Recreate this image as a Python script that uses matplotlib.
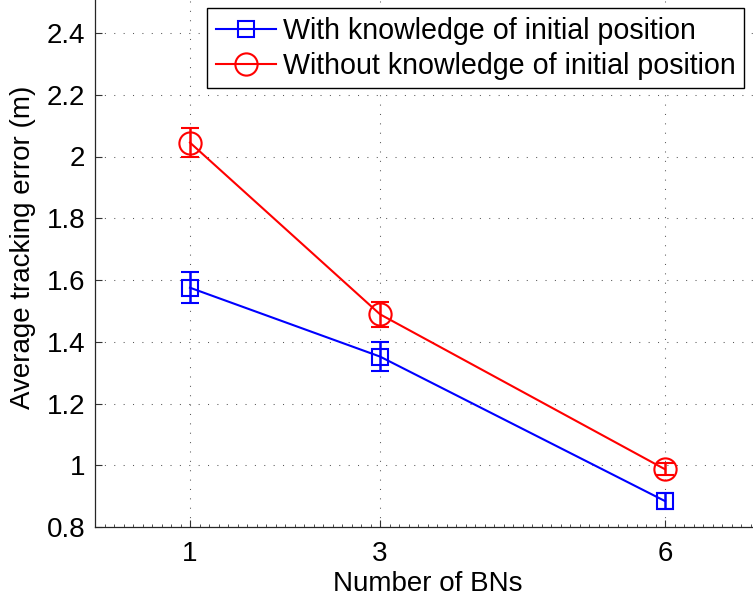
import matplotlib
matplotlib.use('Agg')
import matplotlib.pyplot as plt
from matplotlib.ticker import MultipleLocator

plt.rcParams['font.family'] = ['Liberation Sans', 'DejaVu Sans']

# number of beacon nodes and tracking error (mean, half-width of error bar)
bns = [1, 3, 6]
err_known = [1.575, 1.352, 0.884]
ci_known = [0.050, 0.046, 0.026]
err_unknown = [2.045, 1.489, 0.987]
ci_unknown = [0.047, 0.041, 0.019]
labels = ['With knowledge of initial position',
          'Without knowledge of initial position']

W, H = 753, 598
fig = plt.figure(figsize=(W / 100, H / 100), dpi=100)
# axes box runs past the top and right border of the figure
ax = fig.add_axes([95 / W, (H - 527) / H, 665 / W, 560 / H])
ax.set_xlim(0, 7)
ax.set_ylim(0.8, 0.8 + 560 / 308.75)

fs = 20
eb1 = ax.errorbar(bns, err_known, yerr=ci_known, color='b', lw=1.5, marker='s',
                  ms=12, mfc='none', mec='b', mew=1.5, capsize=6.5,
                  elinewidth=1.8, capthick=1.8, zorder=3)
eb2 = ax.errorbar(bns, err_unknown, yerr=ci_unknown, color='r', lw=1.5,
                  marker='o', ms=16, mfc='none', mec='r', mew=1.5, capsize=6.5,
                  elinewidth=1.8, capthick=1.8, zorder=3)

ax.set_xticks(bns)
ax.set_yticks([0.8, 1.0, 1.2, 1.4, 1.6, 1.8, 2.0, 2.2, 2.4])
ax.set_yticklabels(['0.8', '1', '1.2', '1.4', '1.6', '1.8', '2', '2.2', '2.4'])
ax.xaxis.set_minor_locator(MultipleLocator(0.1))
ax.tick_params(which='major', direction='in', length=5, width=0.8,
               labelsize=fs, color='0.2', pad=7)
ax.tick_params(which='minor', direction='in', length=2.5, width=0.6, color='0.2')
ax.tick_params(axis='x', which='major', pad=10)
ax.tick_params(top=False, right=False, which='both')
for s in ax.spines.values():
    s.set_color('0.15')
    s.set_linewidth(0.9)

ax.grid(True, which='major', color='0.35', lw=0.75, linestyle=(0, (1, 8)))
ax.set_axisbelow(True)

ax.set_xlabel('Number of BNs', fontsize=fs, labelpad=3)
ax.set_ylabel('Average tracking error (m)', fontsize=fs, labelpad=8)

# legend shows only line + marker, no error bars
leg = ax.legend([eb1[0], eb2[0]], labels, loc='upper left',
                bbox_to_anchor=(207 / W, 1 - 8 / H),
                bbox_transform=fig.transFigure, borderaxespad=0, fontsize=20.6,
                fancybox=False, framealpha=1, edgecolor='k', handlelength=2.1,
                handletextpad=0.25, labelspacing=0.25, borderpad=0.3)
leg.get_frame().set_linewidth(1.0)

fig.savefig('out.png', dpi=100)
